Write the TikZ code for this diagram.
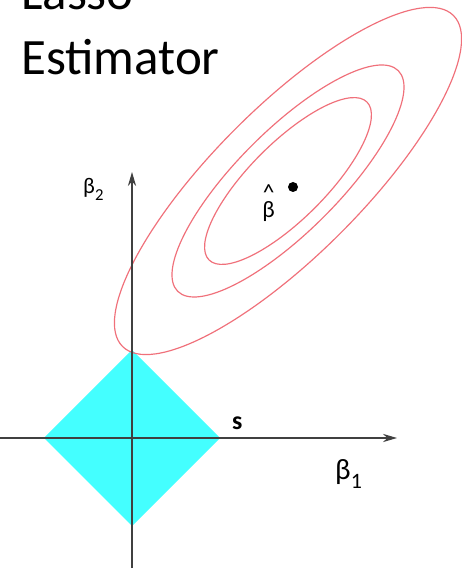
\documentclass[tikz,border=0pt]{standalone}
\usepackage{fontspec}
\setmainfont{Carlito}
\usetikzlibrary{arrows.meta}
\definecolor{contourred}{RGB}{240,112,122}
\definecolor{lassocyan}{RGB}{68,255,255}
\newcommand{\betasub}[1]{\raisebox{-0.28em}{\scalebox{0.75}{#1}}}

\begin{document}
\begin{tikzpicture}[>={Stealth[length=12pt,width=7pt]},
  contour/.style={draw=contourred,line width=1pt},
  axis/.style={->,draw=black!75,line width=1.1pt},
  lbl/.style={inner sep=0pt,anchor=base west}]
  \useasboundingbox[fill=white] (-3.96,-3.93) rectangle (9.87,13.14);
  \coordinate (O) at (0,0);
  % constraint region |b1|+|b2| <= s
  \coordinate (E) at (2.64,0);
  \coordinate (N) at (0,2.64);
  \coordinate (W) at (-2.64,0);
  \coordinate (S) at (0,-2.64);
  \fill[lassocyan] (E)--(N)--(W)--(S)--cycle;
  % loss contours round the least squares estimate
  \coordinate (bhat) at (4.68,7.71);
  \foreach \a/\b in {7.02/2.22,4.68/1.52,3.35/1.14}
    \draw[contour,shift={(bhat)},rotate=45] (0,0) ellipse ({\a} and {\b});
  \node[circle,fill=black,inner sep=0pt,minimum size=0.3cm] (dot) at (4.83,7.53) {};
  % axes
  \coordinate (xstart) at (-3.96,0);
  \coordinate (xend) at (7.95,0);
  \coordinate (ystart) at (0,-3.9);
  \coordinate (yend) at (0,7.98);
  \draw[axis] (xstart)--(xend);
  \draw[axis] (ystart)--(yend);
  \node[lbl,font=\fontsize{43.5}{52}\selectfont] (lasso) at (-3.33,12.84) {Lasso};
  \node[lbl,font=\fontsize{43.5}{52}\selectfont] (estim) at (-3.33,10.89) {Estimator};
  \node[lbl,font=\fontsize{25}{30}\selectfont] (b1) at (6.09,-1.26) {β\betasub{1}};
  \node[lbl,font=\fontsize{19}{23}\selectfont] (b2) at (-1.47,7.32) {β\betasub{2}};
  \node[lbl,font=\bfseries\fontsize{22}{26}\selectfont] (s) at (3.0,0.24) {s};
  \node[align=center,inner sep=0pt,font=\fontsize{20}{15}\selectfont] (bhatlbl) at (4.1,7.05) {\textasciicircum\\β};
\end{tikzpicture}
\end{document}
